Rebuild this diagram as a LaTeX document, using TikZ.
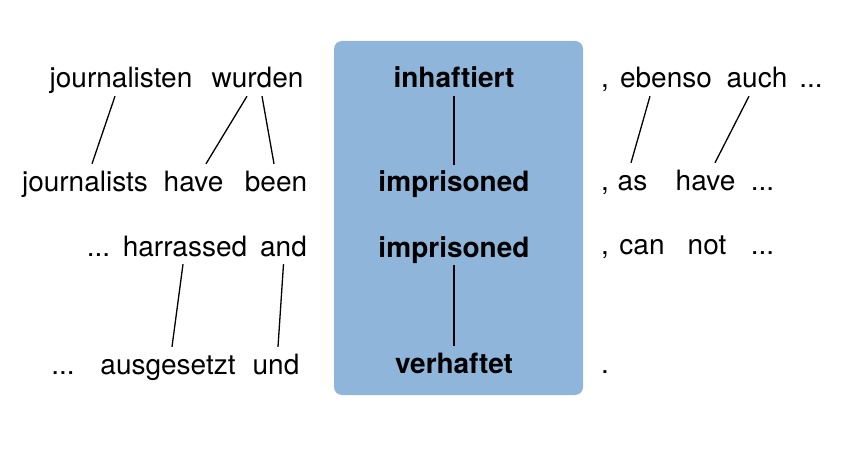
\documentclass[tikz,border=0pt]{standalone}
\usepackage{fontspec}
\setmainfont{TeX Gyre Heros}
\definecolor{boxblue}{RGB}{143,181,219}
\tikzset{
  word/.style={anchor=base, inner xsep=0pt, inner ysep=2pt, text height=25pt, text depth=6pt, font=\fontsize{28}{34}\selectfont},
  bword/.style={word, font=\fontsize{28}{34}\selectfont\bfseries},
  link/.style={draw=black, line width=1.3pt}
}
\begin{document}
\begin{tikzpicture}[x=1pt,y=-1pt]
\useasboundingbox (0,0) rectangle (849,468);
\fill[boxblue, rounded corners=8pt] (334,41) rectangle (583,395);
% left, row 1
\node[word] (journalisten) at (121,88) {journalisten};
\node[word] (wurden) at (257.5,88) {wurden};
% left, row 2
\node[word] (journalists) at (85,191) {journalists};
\node[word] (have) at (193.5,191) {have};
\node[word] (been) at (276,191) {been};
% left, row 3
\node[word] (dotsA) at (98.5,256) {...};
\node[word] (harrassed) at (185,256) {harrassed};
\node[word] (and) at (283.5,256) {and};
% left, row 4
\node[word] (dotsB) at (63,374) {...};
\node[word] (ausgesetzt) at (168,374) {ausgesetzt};
\node[word] (und) at (276,374) {und};
% middle
\node[bword] (inhaftiert) at (454,88) {inhaftiert};
\node[bword] (imprisonedA) at (454,192) {imprisoned};
\node[bword] (imprisonedB) at (454,257) {imprisoned};
\node[bword] (verhaftet) at (454,373) {verhaftet};
% right, row 1
\node[word, anchor=base west] (commaA) at (601,88) {,};
\node[word] (ebenso) at (666,88) {ebenso};
\node[word] (auch) at (757,88) {auch};
\node[word] (dotsC) at (811,88) {...};
% right, row 2
\node[word, anchor=base west] (commaB) at (601,190) {,};
\node[word] (as) at (632.5,190) {as};
\node[word] (haveR) at (705.5,190) {have};
\node[word] (dotsD) at (762.5,190) {...};
% right, row 3
\node[word, anchor=base west] (commaC) at (601,254) {,};
\node[word] (can) at (642,254) {can};
\node[word] (not) at (707,254) {not};
\node[word] (dotsE) at (762.5,254) {...};
% right, row 4
\node[word, anchor=base west] (period) at (601,373) {.};
% connectors
\draw[link] ([xshift=-6pt]journalisten.south) -- ([xshift=7pt]journalists.north);
\draw[link] ([xshift=-10.5pt]wurden.south) -- ([xshift=12.5pt]have.north);
\draw[link] ([xshift=4.5pt]wurden.south) -- ([xshift=-2pt]been.north);
\draw[link] ([xshift=-2pt]harrassed.south) -- ([xshift=4pt]ausgesetzt.north);
\draw[link] (and.south) -- ([xshift=2pt]und.north);
\draw[link] (inhaftiert.south) -- (imprisonedA.north);
\draw[link] (imprisonedB.south) -- (verhaftet.north);
\draw[link] ([xshift=-16pt]ebenso.south) -- ([xshift=-1.5pt]as.north);
\draw[link] ([xshift=-8pt]auch.south) -- ([xshift=9.5pt]haveR.north);
\end{tikzpicture}
\end{document}
